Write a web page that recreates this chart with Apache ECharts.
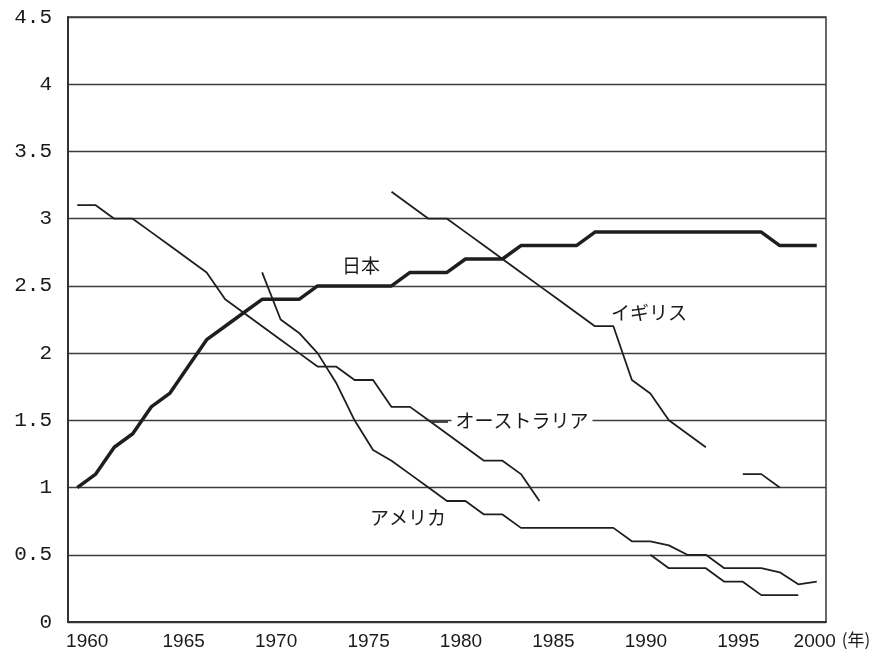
<!DOCTYPE html>
<html>
<head>
<meta charset="utf-8">
<script src="https://cdn.jsdelivr.net/npm/echarts@6/dist/echarts.min.js"></script>
<style>
  html, body { margin: 0; padding: 0; background: #fff; }
  #chart { width: 880px; height: 651px; }
</style>
</head>
<body>
<div id="chart"></div>
<script>
// 年（カテゴリ）
const years = [
  "1960", "1961", "1962", "1963", "1964", "1965", "1966", "1967", "1968", "1969",
  "1970", "1971", "1972", "1973", "1974", "1975", "1976", "1977", "1978", "1979",
  "1980", "1981", "1982", "1983", "1984", "1985", "1986", "1987", "1988", "1989",
  "1990", "1991", "1992", "1993", "1994", "1995", "1996", "1997", "1998", "1999",
  "2000"
];

// 日本
const japan = [
  1.0, 1.1, 1.3, 1.4, 1.6, 1.7, 1.9, 2.1, 2.2, 2.3,
  2.4, 2.4, 2.4, 2.5, 2.5, 2.5, 2.5, 2.5, 2.6, 2.6,
  2.6, 2.7, 2.7, 2.7, 2.8, 2.8, 2.8, 2.8, 2.9, 2.9,
  2.9, 2.9, 2.9, 2.9, 2.9, 2.9, 2.9, 2.9, 2.8, 2.8,
  2.8
];

// オーストラリア
const australia = [
  3.1, 3.1, 3.0, 3.0, 2.9, 2.8, 2.7, 2.6, 2.4, 2.3,
  2.2, 2.1, 2.0, 1.9, 1.9, 1.8, 1.8, 1.6, 1.6, 1.5,
  1.4, 1.3, 1.2, 1.2, 1.1, 0.9, null, null, null, null,
  null, 0.5, 0.4, 0.4, 0.4, 0.3, 0.3, 0.2, 0.2, 0.2,
  null
];

// アメリカ
const america = [
  null, null, null, null, null, null, null, null, null, null,
  2.6, 2.25, 2.15, 2.0, 1.78, 1.5, 1.28, 1.2, 1.1, 1.0,
  0.9, 0.9, 0.8, 0.8, 0.7, 0.7, 0.7, 0.7, 0.7, 0.7,
  0.6, 0.6, 0.57, 0.5, 0.5, 0.4, 0.4, 0.4, 0.37, 0.28,
  0.3
];

// イギリス
const uk = [
  null, null, null, null, null, null, null, null, null, null,
  null, null, null, null, null, null, null, 3.2, 3.1, 3.0,
  3.0, 2.9, 2.8, 2.7, 2.6, 2.5, 2.4, 2.3, 2.2, 2.2,
  1.8, 1.7, 1.5, 1.4, 1.3, null, 1.1, 1.1, 1.0, null,
  null
];

const lineColor = "#1e1e1e";
const cjkFont = "'Noto Sans CJK JP', sans-serif";
const narrowFont = "'Liberation Sans Narrow', 'Liberation Sans', sans-serif";

const makeLine = (name, data, width) => ({
  name: name,
  type: "line",
  data: data,
  symbol: "none",
  connectNulls: false,
  lineStyle: { color: lineColor, width: width },
  itemStyle: { color: lineColor },
  z: 3
});

const chart = echarts.init(document.getElementById("chart"), null, { renderer: "canvas" });

const options = {
  backgroundColor: "#fff",
  animation: false,
  grid: {
    left: 68,
    right: 54,
    top: 17,
    bottom: 28,
    show: true,
    borderColor: "#3a3a3a",
    borderWidth: 1.5
  },
  xAxis: {
    type: "category",
    data: years,
    boundaryGap: true,
    name: "(年)",
    nameLocation: "end",
    nameGap: 10,
    nameTextStyle: {
      fontFamily: cjkFont,
      fontSize: 17,
      color: "#1a1a1a",
      verticalAlign: "top",
      padding: [9, 0, 0, 0]
    },
    axisLine: { show: true, lineStyle: { color: "#333", width: 2 } },
    axisTick: { show: false },
    axisLabel: {
      interval: 4,
      margin: 10,
      formatter: (v) => {
        if (v === "1960") return "{a|" + v + "}";
        if (v === "2000") return "{c|" + v + "}";
        return "{b|" + v + "}";
      },
      rich: {
        a: { fontFamily: narrowFont, fontSize: 19, color: "#1a1a1a", padding: [0, 0, 0, 20] },
        b: { fontFamily: narrowFont, fontSize: 19, color: "#1a1a1a", padding: [0, 0, 0, 28] },
        c: { fontFamily: narrowFont, fontSize: 19, color: "#1a1a1a", padding: [0, 4, 0, 0] }
      }
    },
    splitLine: { show: false }
  },
  yAxis: {
    type: "value",
    min: 0,
    max: 4.5,
    interval: 0.5,
    axisLine: { show: true, lineStyle: { color: "#333", width: 2 } },
    axisTick: { show: false },
    axisLabel: {
      margin: 16,
      fontFamily: "'Liberation Mono', 'DejaVu Sans Mono', monospace",
      fontSize: 21,
      color: "#1a1a1a"
    },
    splitLine: { show: true, lineStyle: { color: "#3c3c3c", width: 1.4 } }
  },
  series: [
    makeLine("日本", japan, 3.5),
    makeLine("オーストラリア", australia, 1.8),
    makeLine("アメリカ", america, 1.8),
    makeLine("イギリス", uk, 1.8)
  ],
  graphic: [
    {
      type: "text", x: 361, y: 266, z: 10,
      style: { text: "日本", font: "19px " + cjkFont, fill: "#1a1a1a", align: "center", verticalAlign: "middle" }
    },
    {
      type: "text", x: 649, y: 313, z: 10,
      style: { text: "イギリス", font: "19px " + cjkFont, fill: "#1a1a1a", align: "center", verticalAlign: "middle" }
    },
    {
      type: "line", z: 10,
      shape: { x1: 432, y1: 422, x2: 448, y2: 422 },
      style: { stroke: "#222", lineWidth: 1.6 }
    },
    {
      type: "text", x: 522, y: 421, z: 10,
      style: {
        text: "オーストラリア", font: "19px " + cjkFont, fill: "#1a1a1a",
        align: "center", verticalAlign: "middle",
        backgroundColor: "#fff", padding: [0, 4, 0, 4]
      }
    },
    {
      type: "text", x: 408, y: 518, z: 10,
      style: { text: "アメリカ", font: "19px " + cjkFont, fill: "#1a1a1a", align: "center", verticalAlign: "middle" }
    }
  ]
};

chart.setOption(options);
</script>
</body>
</html>
